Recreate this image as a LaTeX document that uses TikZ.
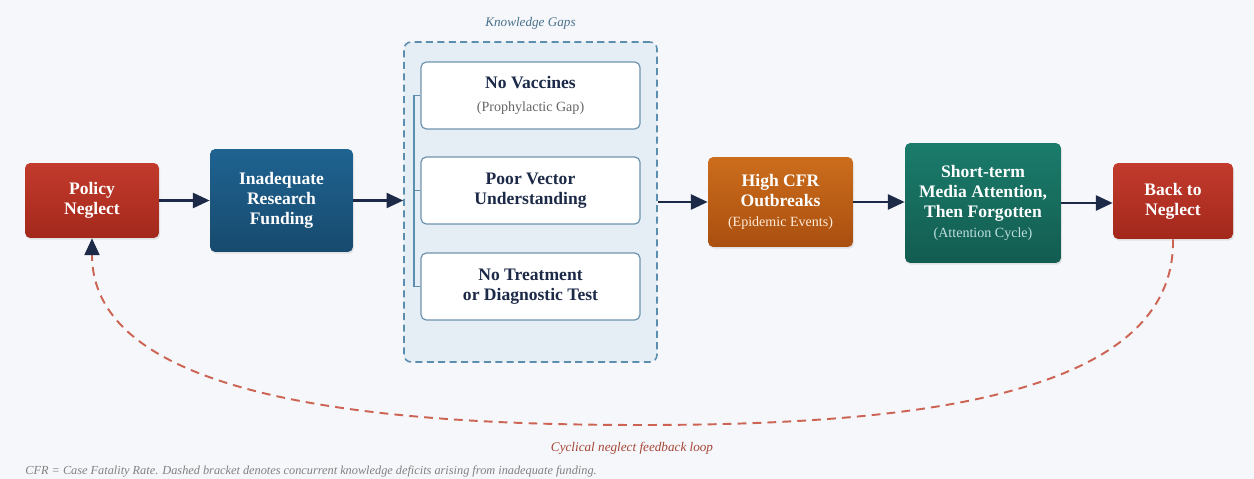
\documentclass[tikz,border=0pt]{standalone}
\usepackage{fontspec}
\setmainfont{Liberation Serif}
\usetikzlibrary{arrows.meta,positioning,shadows}

\definecolor{paper}{HTML}{F5F7FA}
\definecolor{navy}{HTML}{1C2A48}
\definecolor{redtop}{HTML}{C23B2C}
\definecolor{redbot}{HTML}{A3281C}
\definecolor{bluetop}{HTML}{1F6391}
\definecolor{bluebot}{HTML}{174A6E}
\definecolor{orangetop}{HTML}{CC6D1C}
\definecolor{orangebot}{HTML}{A94F10}
\definecolor{tealtop}{HTML}{1B7C6B}
\definecolor{tealbot}{HTML}{125C50}
\definecolor{gapline}{HTML}{5C8EAF}
\definecolor{gapfill}{HTML}{E5EDF5}
\definecolor{boxline}{HTML}{6F95AE}
\definecolor{loopred}{HTML}{CD6352}
\definecolor{looptext}{HTML}{A54536}

\newcommand\subfont{\mdseries\fontsize{8}{10}\selectfont}

\tikzset{
  stage/.style={rounded corners=3pt, align=center, text=white,
    font=\bfseries\fontsize{10}{11.5}\selectfont, inner sep=2pt,
    drop shadow={opacity=0.18, shadow xshift=0.6pt, shadow yshift=-1pt}},
  gapbox/.style={draw=boxline, fill=white, line width=0.7pt, rounded corners=3pt,
    align=center, text=navy, font=\bfseries\fontsize{10}{11.5}\selectfont,
    minimum width=4.38cm, minimum height=1.34cm},
  flow/.style={draw=navy, line width=1.4pt, -{Triangle[length=9.5pt,width=8.5pt]}}
}

\begin{document}
\begin{tikzpicture}
 % one unit = one pixel of the 1254 x 479 sheet, y grows downwards
 \begin{scope}[x=0.02cm, y=-0.02cm]
  \fill[paper] (0,0) rectangle (1254,479);
  \useasboundingbox (0,0) rectangle (1254,479);

  %stages of the cycle
  \node(policy)[stage, top color=redtop, bottom color=redbot,
    minimum width=2.68cm, minimum height=1.5cm] at (92,200.5) {Policy\\Neglect};
  \node(funding)[stage, top color=bluetop, bottom color=bluebot,
    minimum width=2.86cm, minimum height=2.06cm] at (281.5,200.5) {Inadequate\\Research\\Funding};

  %knowledge gaps group
  \node(gaps)[draw=gapline, fill=gapfill, dash pattern=on 4pt off 2.5pt, line width=0.9pt,
    rounded corners=4pt, minimum width=5.06cm, minimum height=6.4cm] at (530.5,202) {};
  \node(gapslabel)[above=0.12cm of gaps, text=gapline!80!black,
    font=\itshape\fontsize{7.5}{9}\selectfont] {Knowledge Gaps};

  \node(vaccines)[gapbox] at (530.5,95.5)
    {No Vaccines\\[2pt]{\subfont\color{black!60}(Prophylactic Gap)}};
  \node(vector)[gapbox] at (530.5,190.5) {Poor Vector\\Understanding};
  \node(treatment)[gapbox] at (530.5,286.5) {No Treatment\\or Diagnostic Test};

  \draw[gapline, line width=1.1pt] (vaccines.west) -- ++(-0.12cm,0) |- (treatment.west);
  \draw[gapline, line width=1.1pt] (vector.west) -- ++(-0.12cm,0);

  \node(cfr)[stage, top color=orangetop, bottom color=orangebot,
    minimum width=2.9cm, minimum height=1.8cm] at (780.5,202)
    {High CFR\\Outbreaks\\{\subfont\color{orange!15}(Epidemic Events)}};
  \node(media)[stage, top color=tealtop, bottom color=tealbot,
    minimum width=3.12cm, minimum height=2.4cm] at (983,203)
    {Short-term\\Media Attention,\\Then Forgotten\\{\subfont\color{teal!25}(Attention Cycle)}};
  \node(back)[stage, top color=redtop, bottom color=redbot,
    minimum width=2.4cm, minimum height=1.52cm] at (1173,201) {Back to\\Neglect};

  %main flow
  \draw[flow] (policy.east) -- (policy.east -| funding.west);
  \draw[flow] (funding.east) -- (funding.east -| gaps.west);
  \draw[flow] (gaps.east) -- (gaps.east -| cfr.west);
  \draw[flow] (cfr.east) -- (cfr.east -| media.west);
  \draw[flow] (media.east) -- (media.east -| back.west);

  %feedback loop
  \coordinate (loopbottom) at (640,425);
  \draw[loopred, line width=1.1pt, dash pattern=on 5pt off 3.5pt,
    -{Triangle[length=9.5pt,width=8.5pt,color=navy]}]
    (back.south) .. controls (1176,400) and (900,425) .. (loopbottom)
    .. controls (380,425) and (92,400) .. (policy.south);
  \node(looplabel)[text=looptext, font=\itshape\fontsize{7.5}{9}\selectfont] at (632,448)
    {Cyclical neglect feedback loop};

  \node(note)[anchor=west, inner sep=0pt, text=black!50, font=\itshape\fontsize{7}{8}\selectfont]
    at (25,471) {CFR = Case Fatality Rate. Dashed bracket denotes concurrent knowledge
    deficits arising from inadequate funding.};
 \end{scope}
\end{tikzpicture}
\end{document}
